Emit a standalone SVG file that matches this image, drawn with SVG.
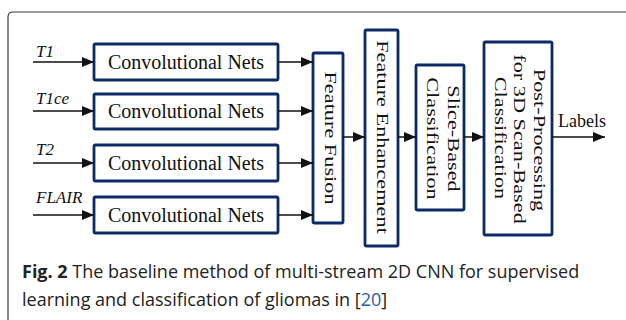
<svg xmlns="http://www.w3.org/2000/svg" width="626" height="320" viewBox="0 0 626 320">
<style>
.frame{fill:none;stroke:#3a3a3a;stroke-width:1.2}
.box{fill:#fff;stroke:#0b2a66;stroke-width:2.8}
.t{font-family:"Liberation Serif","Times New Roman",serif;fill:#111}
.conv{font-size:20px;text-anchor:middle}
.vt{font-size:22.3px;text-anchor:middle}
.in{font-size:17px;font-style:italic}
.lbl{font-size:18px}
.edge{stroke:#111;stroke-width:1.5;fill:none}
.cap{font-family:"Open Sans","Noto Sans",sans-serif;font-size:18px;fill:#222}
</style>
<defs>
<marker id="ah" markerUnits="userSpaceOnUse" markerWidth="12" markerHeight="10" refX="12" refY="5" orient="auto">
<path d="M0,0 L12,5 L0,10 Z" fill="#111"/>
</marker>
</defs>
<rect width="626" height="320" fill="#fff"/>
<path class="frame" d="M8,330 L8,17 Q8,12 13,12 L630,12"/>

<g id="in-T1"><text class="t in" x="36" y="57">T1</text></g>
<g id="in-T1ce"><text class="t in" x="36" y="104">T1ce</text></g>
<g id="in-T2"><text class="t in" x="36" y="155">T2</text></g>
<g id="in-FLAIR"><text class="t in" x="36" y="203">FLAIR</text></g>

<g id="conv1"><rect class="box" x="94" y="44" width="184" height="36" rx="1.5"/><text class="t conv" x="186" y="69">Convolutional Nets</text></g>
<g id="conv2"><rect class="box" x="94" y="94" width="184" height="35" rx="1.5"/><text class="t conv" x="186" y="118">Convolutional Nets</text></g>
<g id="conv3"><rect class="box" x="94" y="145" width="184" height="36" rx="1.5"/><text class="t conv" x="186" y="170">Convolutional Nets</text></g>
<g id="conv4"><rect class="box" x="94" y="197" width="184" height="36" rx="1.5"/><text class="t conv" x="186" y="222">Convolutional Nets</text></g>

<g id="fusion"><rect class="box" x="313" y="53" width="30" height="170" rx="1.5"/><text class="t vt" transform="translate(325,138) rotate(90) scale(1,0.78)">Feature Fusion</text></g>
<g id="enhance"><rect class="box" x="365" y="30" width="33" height="216" rx="1.5"/><text class="t vt" transform="translate(377,137) rotate(90) scale(1,0.78)">Feature Enhancement</text></g>
<g id="slice"><rect class="box" x="416" y="65" width="48" height="145" rx="1.5"/><text class="t vt" transform="translate(448,138.5) rotate(90) scale(1,0.78)">Slice-Based</text><text class="t vt" transform="translate(427,138.5) rotate(90) scale(1,0.78)">Classification</text></g>
<g id="post"><rect class="box" x="484" y="42" width="68" height="193" rx="1.5"/><text class="t vt" transform="translate(534,140) rotate(90) scale(1,0.78)">Post-Processing</text><text class="t vt" transform="translate(514,139) rotate(90) scale(1,0.78)">for 3D Scan-Based</text><text class="t vt" transform="translate(495,138) rotate(90) scale(1,0.78)">Classification</text></g>

<g id="connectors">
<line class="edge" x1="33" y1="62" x2="94" y2="62" marker-end="url(#ah)"/>
<line class="edge" x1="33" y1="111" x2="94" y2="111" marker-end="url(#ah)"/>
<line class="edge" x1="33" y1="163" x2="94" y2="163" marker-end="url(#ah)"/>
<line class="edge" x1="33" y1="215" x2="94" y2="215" marker-end="url(#ah)"/>
<line class="edge" x1="278" y1="62" x2="313" y2="62" marker-end="url(#ah)"/>
<line class="edge" x1="278" y1="111" x2="313" y2="111" marker-end="url(#ah)"/>
<line class="edge" x1="278" y1="163" x2="313" y2="163" marker-end="url(#ah)"/>
<line class="edge" x1="278" y1="215" x2="313" y2="215" marker-end="url(#ah)"/>
<line class="edge" x1="343" y1="137" x2="365" y2="137" marker-end="url(#ah)"/>
<line class="edge" x1="398" y1="137" x2="416" y2="137" marker-end="url(#ah)"/>
<line class="edge" x1="464" y1="137" x2="484" y2="137" marker-end="url(#ah)"/>
<line class="edge" x1="552" y1="137" x2="605" y2="137" marker-end="url(#ah)"/>
</g>
<g id="out-labels"><text class="t lbl" x="558" y="127">Labels</text></g>

<text class="cap" x="22" y="278"><tspan font-weight="bold">Fig. 2</tspan> The baseline method of multi-stream 2D CNN for supervised</text>
<text class="cap" x="22" y="306">learning and classification of gliomas in [<tspan fill="#2a5db0">20</tspan>]</text>
</svg>
